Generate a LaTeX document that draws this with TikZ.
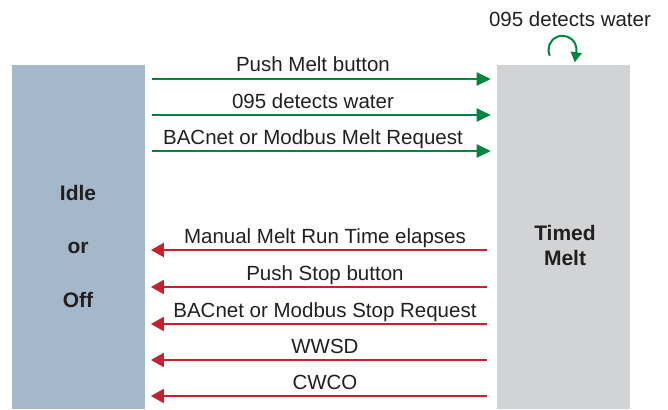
\documentclass[tikz,border=0pt]{standalone}
\usepackage{fontspec}
\setmainfont{Liberation Sans}
\usetikzlibrary{arrows.meta}
\definecolor{idleblue}{HTML}{A3B8CB}
\definecolor{meltgray}{HTML}{D1D3D4}
\definecolor{meltgreen}{HTML}{00853F}
\definecolor{stopred}{HTML}{C8202F}
\definecolor{inkgray}{HTML}{231F20}
\begin{document}
\begin{tikzpicture}[
        x=1pt, y=-1pt,
        every node/.style={font=\fontsize{20.5}{25}\selectfont, text=inkgray},
        state/.style={minimum width=133pt, minimum height=344pt, inner sep=0pt},
        statetext/.style={anchor=base, inner sep=0pt, font=\fontsize{21}{25}\selectfont\bfseries},
        tomelt/.style={draw=meltgreen, line width=2pt, -{Triangle[length=14pt,width=13pt]},
            shorten <=7pt, shorten >=6pt},
        toidle/.style={draw=stopred, line width=2pt, -{Triangle[length=13pt,width=14pt]},
            shorten <=10pt, shorten >=5.7pt},
        lbl/.style={anchor=base, inner sep=0pt, yshift=7pt}
    ]
    \useasboundingbox (0,0) rectangle (668,409);

    % the two states
    \node[state, fill=idleblue] (idle) at (78.5,237) {};
    \node[state, fill=meltgray] (timed) at (563.4,237) {};
    \node[statetext] (idletop) at (78,200) {Idle};
    \node[statetext] (idlemid) at (78,253) {or};
    \node[statetext] (idlebot) at (78,307) {Off};
    \node[statetext] (timedtop) at (565,240) {Timed};
    \node[statetext] (timedbot) at (565,265) {Melt};

    % into timed melt
    \foreach \y/\txt in {79/Push Melt button, 115/095 detects water,
                         151/BACnet or Modbus Melt Request}
        \draw[tomelt] (idle.east |- 0,\y) -- node[lbl, xshift=-8pt] {\txt} (timed.west |- 0,\y);

    % back to idle
    \foreach \y/\txt in {250/Manual Melt Run Time elapses, 287/Push Stop button,
                         324/BACnet or Modbus Stop Request, 360/WWSD, 396/CWCO}
        \draw[toidle] (timed.west |- 0,\y) -- node[lbl, xshift=4pt] {\txt} (idle.east |- 0,\y);

    % self loop
    \node[anchor=base, inner sep=0pt] (loopnote) at (570,27) {095 detects water};
    \draw[meltgreen, line width=2pt, -{Triangle[length=10pt,width=11pt]}]
        ([shift={(-13.6,-9.1)}]timed.north) arc[start angle=155, end angle=370, radius=14]
        -- ++(-1.5,10);
\end{tikzpicture}
\end{document}
